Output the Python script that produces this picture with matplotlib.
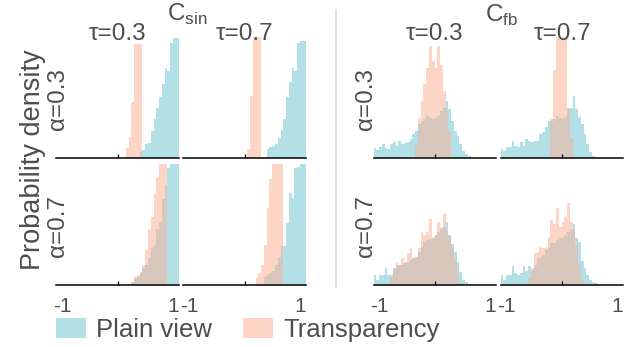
import numpy as np
import matplotlib
matplotlib.use('Agg')
import matplotlib.pyplot as plt
from matplotlib.patches import Patch
from matplotlib.lines import Line2D

plt.rcParams['font.family'] = ['Liberation Sans', 'DejaVu Sans']
plt.rcParams['mathtext.fontset'] = 'custom'
plt.rcParams['mathtext.rm'] = 'Liberation Sans'

# Dados: histogramas (inicio do primeiro bin, alturas relativas), bins de 0.05
bin_w = 0.05

sin_a3_t3_plain = (0.40, [16, 23, 41, 45, 81, 116, 150, 181, 221, 271, 261, 346, 359, 359])
sin_a3_t3_transp = (0.15, [29, 61, 166, 341, 341, 341])
sin_a3_t7_plain = (0.40, [26, 33, 36, 41, 60, 83, 116, 181, 226, 271, 261, 346, 351, 351])
sin_a3_t7_transp = (0.05, [26, 186, 363, 363, 363])
sin_a7_t3_plain = (0.25, [10, 20, 25, 35, 50, 60, 80, 115, 120, 170, 190, 260, 300, 351, 363, 363, 363])
sin_a7_t3_transp = (0.25, [8, 25, 30, 40, 60, 105, 170, 205, 275, 325, 365, 365, 365])
sin_a7_t7_plain = (0.35, [25, 29, 35, 41, 60, 83, 116, 116, 186, 276, 263, 351, 356, 363, 363])
sin_a7_t7_transp = (0.20, [20, 36, 61, 121, 231, 320, 366, 366, 366, 366])

fb_a3_t3_plain = (-1.10, [30, 22, 32, 40, 28, 26, 42, 46, 36, 50, 42, 44, 48, 55, 70, 80, 100, 110,
                          115, 125, 118, 115, 120, 125, 140, 150, 170, 145, 110, 80, 65, 40, 20, 12, 6])
fb_a3_t3_transp = (-0.35, [40, 120, 170, 220, 270, 336, 290, 270, 336, 280, 200, 140, 80])
fb_a3_t7_plain = (-1.10, [26, 21, 31, 31, 51, 36, 31, 46, 36, 56, 51, 46, 51, 51, 71, 76, 91, 111,
                          110, 115, 126, 120, 116, 121, 146, 150, 185, 146, 121, 101, 71, 41, 16, 6])
fb_a3_t7_transp = (-0.20, [115, 263, 363, 363, 363, 363, 150, 60])
fb_a7_t3_plain = (-1.10, [29, 16, 31, 31, 51, 31, 31, 51, 56, 60, 60, 65, 70, 75, 80, 85, 100, 115,
                          130, 135, 140, 140, 150, 160, 170, 175, 190, 150, 125, 100, 70, 40, 16, 9, 4])
fb_a7_t3_transp = (-0.80, [25, 45, 70, 60, 80, 70, 95, 110, 80, 80, 110, 160, 150, 160, 200, 145,
                           150, 190, 175, 215, 160, 150, 115, 75, 25, 5])
fb_a7_t7_plain = (-1.10, [31, 16, 31, 31, 56, 36, 31, 36, 56, 41, 56, 46, 61, 81, 81, 91, 106, 111,
                          126, 126, 136, 141, 146, 151, 160, 170, 185, 141, 131, 71, 51, 31, 16, 10, 5])
fb_a7_t7_transp = (-0.60, [20, 50, 95, 100, 115, 110, 115, 145, 195, 185, 231, 175, 190, 205, 246,
                           190, 165, 120, 60, 15])

groups = ['C$_{\\mathrm{sin}}$', 'C$_{\\mathrm{fb}}$']
taus = ['τ=0.3', 'τ=0.7']
alphas = ['α=0.3', 'α=0.7']
legend_labels = ['Plain view', 'Transparency']

# (linha, coluna) -> (plain, transparency)
panels = {
    (0, 0): (sin_a3_t3_plain, sin_a3_t3_transp),
    (0, 1): (sin_a3_t7_plain, sin_a3_t7_transp),
    (1, 0): (sin_a7_t3_plain, sin_a7_t3_transp),
    (1, 1): (sin_a7_t7_plain, sin_a7_t7_transp),
    (0, 2): (fb_a3_t3_plain, fb_a3_t3_transp),
    (0, 3): (fb_a3_t7_plain, fb_a3_t7_transp),
    (1, 2): (fb_a7_t3_plain, fb_a7_t3_transp),
    (1, 3): (fb_a7_t7_plain, fb_a7_t7_transp),
}

blue = '#b3e0e7'
salmon = '#fbad91'
txt = '#4d4d4d'

W, H = 634, 347
fig = plt.figure(figsize=(W / 100, H / 100), dpi=100)

col_x = [56.5, 183.5, 373.5, 500.5]
row_base = [157.5, 285]
pw, ph = 122, 121.5


def hist(ax, series, **kw):
    start, heights = series
    edges = start + bin_w * np.arange(len(heights) + 1)
    ax.stairs(heights, edges, fill=True, **kw)


for (r, c), (plain, transp) in panels.items():
    ax = fig.add_axes([col_x[c] / W, (H - row_base[r]) / H, pw / W, ph / H])
    hist(ax, plain, color=blue, lw=0)
    hist(ax, transp, color=salmon, alpha=0.5, lw=0)
    ax.set_xlim(-1.1, 1.1)
    ax.set_ylim(0, 366)
    for s in ['top', 'left', 'right']:
        ax.spines[s].set_visible(False)
    ax.spines['bottom'].set_linewidth(1.1)
    ax.set_yticks([])
    ax.set_xticks([-1, 1])
    ax.set_xticks([0], minor=True)
    ax.tick_params(axis='x', which='major', length=0, pad=9, labelsize=15, labelcolor=txt)
    ax.tick_params(axis='x', which='minor', direction='in', length=3, width=0.9)
    if r == 0:
        ax.set_xticklabels([])
    else:
        ax.set_xticklabels(['-1', '1'])

# Titulos dos grupos e das colunas
fig.text(187 / W, 1 - 14 / H, groups[0], ha='center', va='center', fontsize=17.5, color=txt)
fig.text(502 / W, 1 - 15 / H, groups[1], ha='center', va='center', fontsize=17.5, color=txt)
for c, zx in enumerate([117.5, 245, 435, 562]):
    fig.text(zx / W, 1 - 34 / H, taus[c % 2], ha='center', va='center', fontsize=17.5, color=txt)

# Rotulos das linhas
for gx in [58, 366]:
    for r, cy in enumerate([99, 226]):
        fig.text(gx / W, 1 - cy / H, alphas[r], rotation=90, ha='center', va='center',
                 fontsize=17.5, color=txt)

fig.text(33 / W, 1 - 160 / H, 'Probability density', rotation=90, ha='center', va='center',
         fontsize=19.5, color=txt)

# Separador entre os grupos
fig.add_artist(Line2D([336 / W, 336 / W], [1 - 10 / H, 1 - 287 / H], color='#d9d9d9', lw=1.2))

# Legenda
handles = [Patch(facecolor=blue, lw=0), Patch(facecolor=salmon, alpha=0.5, lw=0)]
fig.legend(handles, legend_labels, loc='center left', bbox_to_anchor=(56 / W, 1 - 330 / H),
           ncol=2, frameon=False, fontsize=18.5, handlelength=1.17, handleheight=0.78,
           handletextpad=0.4, columnspacing=1.2, borderpad=0, borderaxespad=0, labelcolor=txt)

fig.savefig('out.png', dpi=100)
